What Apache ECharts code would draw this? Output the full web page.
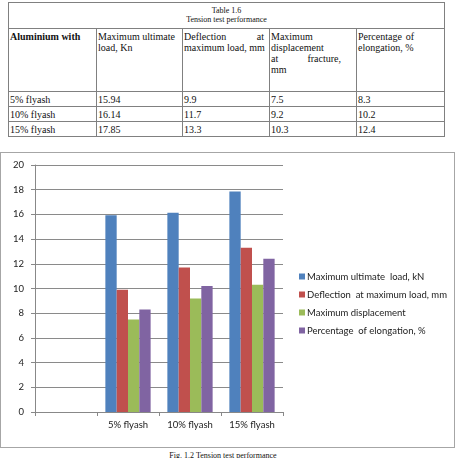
<!DOCTYPE html>
<html>
<head>
<meta charset="utf-8">
<script src="https://cdn.jsdelivr.net/npm/echarts@6/dist/echarts.min.js"></script>
<style>
  html, body { margin: 0; padding: 0; background: #fff; }
  body { width: 456px; height: 458px; position: relative; overflow: hidden; font-family: "Liberation Serif", serif; color: #111; }
  #tbl { position: absolute; left: 8px; top: 2px; border-collapse: collapse; table-layout: fixed; width: 436px; }
  #tbl td { border: 1px solid #808080; padding: 0 1px; font-size: 10px; line-height: 11px; vertical-align: top; overflow: hidden; }
  #tbl td.cap { text-align: center; font-size: 8px; line-height: 9px; padding-top: 3px; height: 22px; }
  #tbl tr.head td { height: 60px; padding-top: 2px; }
  #tbl tr.row td { height: 14px; vertical-align: middle; }
  .jl { display: flex; justify-content: space-between; }
  #chart { position: absolute; left: 0; top: 152px; width: 455px; height: 296px; border: 1px solid #a6a6a6; box-sizing: border-box; }
  #fig { position: absolute; left: 0; width: 446px; top: 451px; text-align: center; font-size: 8px; }
</style>
</head>
<body>
<table id="tbl">
  <colgroup><col style="width:88px"><col style="width:86px"><col style="width:87px"><col style="width:87px"><col style="width:88px"></colgroup>
  <tr><td class="cap" colspan="5">Table 1.6<br>Tension test performance</td></tr>
  <tr class="head">
    <td><b>Aluminium with</b></td>
    <td>Maximum ultimate<br>load, Kn</td>
    <td><div class="jl" style="width:80px"><span>Deflection</span><span>at</span></div>maximum load, mm</td>
    <td>Maximum<br>displacement<br><div class="jl" style="width:70px"><span>at</span><span>fracture,</span></div>mm</td>
    <td><div class="jl" style="width:56px"><span>Percentage</span><span>of</span></div>elongation, %</td>
  </tr>
  <tbody id="rows"></tbody>
</table>
<div id="chart"></div>
<div id="fig">Fig. 1.2 Tension test performance</div>
<script>
var groups = ['5% flyash', '10% flyash', '15% flyash'];
var seriesNames = ['Maximum ultimate  load, kN', 'Deflection  at maximum load, mm', 'Maximum displacement', 'Percentage  of elongation, %'];
var ultimateLoad = [15.94, 16.14, 17.85];
var deflection = [9.9, 11.7, 13.3];
var displacement = [7.5, 9.2, 10.3];
var elongation = [8.3, 10.2, 12.4];
var colors = ['#4F81BD', '#C0504D', '#9BBB59', '#8064A2'];

// table body
var tableText = [['15.94', '9.9', '7.5', '8.3'], ['16.14', '11.7', '9.2', '10.2'], ['17.85', '13.3', '10.3', '12.4']];
var html = '';
groups.forEach(function (g, i) {
    html += '<tr class="row"><td>' + g + '</td>';
    tableText[i].forEach(function (v) { html += '<td>' + v + '</td>'; });
    html += '</tr>';
});
document.getElementById('rows').innerHTML = html;

// chart: first category slot is left empty, as in the original
var categories = [''].concat(groups);
var allValues = [ultimateLoad, deflection, displacement, elongation];

var myChart = echarts.init(document.getElementById('chart'));
var option = {
    animation: false,
    textStyle: { fontFamily: 'Lato' },
    grid: { left: 34, right: 171, top: 12, bottom: 35 },
    legend: {
        orient: 'vertical',
        left: 293,
        top: 113,
        itemWidth: 6,
        itemHeight: 6,
        itemGap: 7,
        icon: 'rect',
        textStyle: { fontSize: 9.5, lineHeight: 11, color: '#222', fontFamily: 'Lato', padding: [0, 0, 0, -3] },
        data: seriesNames
    },
    xAxis: {
        type: 'category',
        data: categories,
        axisLine: { lineStyle: { color: '#888' } },
        axisTick: { show: true, length: 4, lineStyle: { color: '#888' } },
        axisLabel: { color: '#222', fontSize: 9.5, margin: 8, interval: 0 }
    },
    yAxis: {
        type: 'value',
        min: 0,
        max: 20,
        interval: 2,
        axisLine: { show: true, lineStyle: { color: '#888' } },
        axisTick: { show: true, length: 4, lineStyle: { color: '#888' } },
        axisLabel: { color: '#222', fontSize: 9.5, margin: 11 },
        splitLine: { lineStyle: { color: '#8a8a8a' } }
    },
    series: seriesNames.map(function (name, i) {
        return {
            name: name,
            type: 'bar',
            barGap: '0%',
            barCategoryGap: '27%',
            itemStyle: { color: colors[i] },
            data: [null].concat(allValues[i])
        };
    })
};
myChart.setOption(option);
</script>
</body>
</html>
